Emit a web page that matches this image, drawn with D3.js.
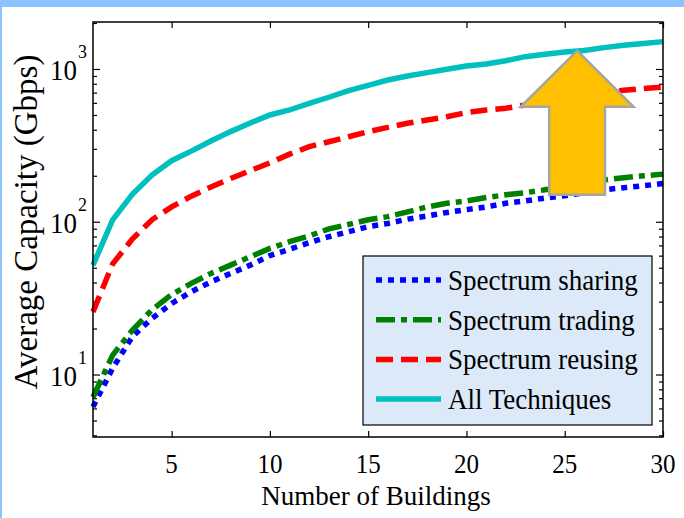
<!DOCTYPE html>
<html>
<head>
<meta charset="utf-8">
<script src="https://cdn.jsdelivr.net/npm/d3@7"></script>
<style>
  body { margin: 0; background: #fff; }
  .tick text { display: none; }
  .domain { display: none; }
  .tick line { stroke: #000; stroke-width: 1.2; }
</style>
</head>
<body>
<div class="main-container"></div>
<script>
// number of buildings (x)
const buildings = [1,2,3,4,5,6,7,8,9,10,11,12,13,14,15,16,17,18,19,20,21,22,23,24,25,26,27,28,29,30];

// average capacity in Gbps
const sharing = [6.15,11,17.7,23.3,29.2,34.8,40.4,45.9,52,60,66,73,79.8,86,92.8,97.5,104,109,115,120,125,132,137,143,148,155,162,167,172,178];
const trading = [7.1,13.4,19.5,26.5,33.4,39.5,45.9,52,59,66.9,74,80.8,89.8,96,103,108,116,125,132,137,144,150,155,162,170,180,188,194,200,205];
const reusing = [25.7,53,77,103,125,147,169,192,216,243,277,310,334,360,389,415,441,463,487,518,539,553,581,610,640,670,700,725,745,760];
const allTech = [52,103,151,202,251,290,338,389,443,500,539,596,653,722,782,847,900,946,995,1046,1079,1133,1204,1250,1290,1320,1380,1430,1470,1510];

const seriesNames = ["Spectrum sharing", "Spectrum trading", "Spectrum reusing", "All Techniques"];
const xTicks = [5, 10, 15, 20, 25, 30];
const yMajor = [10, 100, 1000];
const yExp = ["1", "2", "3"];

const width = 684, height = 518;
const margin = {top: 22, right: 20, bottom: 81, left: 93};
const SY = 1.1; // text looks a bit taller than it is wide
const FONT = "'Liberation Serif', 'Times New Roman', Times, serif";

const svg = d3.select(".main-container")
  .append("svg")
  .attr("width", width)
  .attr("height", height);

// light blue frame strips
svg.append("rect").attr("x", 0).attr("y", 0).attr("width", width).attr("height", 7).attr("fill", "#8cc3ff");
svg.append("rect").attr("x", 0).attr("y", 0).attr("width", 2).attr("height", height).attr("fill", "#8cc3ff");

const x = d3.scaleLinear()
  .domain([1, 30])
  .range([margin.left, width - margin.right - 1]);

const y = d3.scaleLog()
  .domain([3.9, 2030])
  .range([height - margin.bottom, margin.top]);

const minor = [];
[1, 10, 100, 1000].forEach(d => {
  for (let k = 2; k <= 9; k++) {
    const v = d * k;
    if (v >= 3.9 && v <= 2030) minor.push(v);
  }
});

const x0 = x.range()[0], x1 = x.range()[1];
const y0 = y.range()[0], y1 = y.range()[1];

// ticks, all pointing inward
svg.append("g").attr("transform", `translate(${x0},0)`)
  .call(d3.axisLeft(y).tickValues(yMajor).tickSize(-7));
svg.append("g").attr("transform", `translate(${x0},0)`)
  .call(d3.axisLeft(y).tickValues(minor).tickSize(-4));
svg.append("g").attr("transform", `translate(${x1},0)`)
  .call(d3.axisRight(y).tickValues(yMajor).tickSize(-7));
svg.append("g").attr("transform", `translate(${x1},0)`)
  .call(d3.axisRight(y).tickValues(minor).tickSize(-4));
svg.append("g").attr("transform", `translate(0,${y0})`)
  .call(d3.axisBottom(x).tickValues(xTicks).tickSize(-6));
svg.append("g").attr("transform", `translate(0,${y1})`)
  .call(d3.axisTop(x).tickValues(xTicks).tickSize(-6));

function label(g, px, py, s, size, anchor, sy) {
  return g.append("text")
    .attr("transform", `translate(${px},${py}) scale(1,${sy || SY})`)
    .attr("font-family", FONT)
    .attr("font-size", size)
    .attr("text-anchor", anchor)
    .attr("fill", "#000")
    .text(s);
}

// x tick labels
xTicks.forEach(v => label(svg, x(v), 473, v, 25, "middle", 1.05));

// y tick labels 10^n
yMajor.forEach((v, i) => {
  label(svg, 77, y(v) + 11, "10", 27, "end");
  label(svg, 78, y(v) - 11, yExp[i], 18, "start");
});

// axis titles
label(svg, 376, 505, "Number of Buildings", 27, "middle", 1.05);
svg.append("text")
  .attr("transform", `translate(37,222) rotate(-90)`)
  .attr("font-family", FONT)
  .attr("font-size", 33)
  .attr("text-anchor", "middle")
  .attr("fill", "#000")
  .text("Average Capacity (Gbps)");

// lines
const styles = [
  {color: "#0000ff", dash: "6,6"},
  {color: "#008000", dash: "19,6,6,6"},
  {color: "#ff0000", dash: "17,8"},
  {color: "#00bfbf", dash: null}
];
const allSeries = [sharing, trading, reusing, allTech];

const line = d3.line()
  .x((d, i) => x(buildings[i]))
  .y(d => y(d));

allSeries.forEach((s, i) => {
  svg.append("path")
    .datum(s)
    .attr("fill", "none")
    .attr("stroke", styles[i].color)
    .attr("stroke-width", 5.5)
    .attr("stroke-dasharray", styles[i].dash)
    .attr("d", line);
});

// arrow annotation, given in data units
const arrowTip = {bx: 25.63, v: 1318};
const arrowHeadBase = 566, arrowBottom = 150;
const headHalf = 2.87, shaftHalf = 1.42;
const arrowPts = [
  [arrowTip.bx, arrowTip.v],
  [arrowTip.bx + headHalf, arrowHeadBase],
  [arrowTip.bx + shaftHalf, arrowHeadBase],
  [arrowTip.bx + shaftHalf, arrowBottom],
  [arrowTip.bx - shaftHalf, arrowBottom],
  [arrowTip.bx - shaftHalf, arrowHeadBase],
  [arrowTip.bx - headHalf, arrowHeadBase]
];
svg.append("path")
  .attr("d", d3.line().x(d => x(d[0])).y(d => y(d[1])).curve(d3.curveLinearClosed)(arrowPts))
  .attr("fill", "#ffc000")
  .attr("stroke", "#a5a5a5")
  .attr("stroke-width", 2.5)
  .attr("stroke-linejoin", "miter");

// plot frame
svg.append("rect")
  .attr("x", x0).attr("y", y1)
  .attr("width", x1 - x0).attr("height", y0 - y1)
  .attr("fill", "none")
  .attr("stroke", "#000")
  .attr("stroke-width", 1.5);

// legend
const legend = svg.append("g").attr("transform", "translate(363,256)");
legend.append("rect")
  .attr("width", 289).attr("height", 169)
  .attr("fill", "#dce9f8")
  .attr("stroke", "#000")
  .attr("stroke-width", 1.2);

seriesNames.forEach((name, i) => {
  const ry = 24 + i * 39.7;
  legend.append("line")
    .attr("x1", 13).attr("x2", 78)
    .attr("y1", ry).attr("y2", ry)
    .attr("stroke", styles[i].color)
    .attr("stroke-width", 5.5)
    .attr("stroke-dasharray", styles[i].dash);
  label(legend, 85, ry + 10, name, 27, "start");
});
</script>
</body>
</html>
